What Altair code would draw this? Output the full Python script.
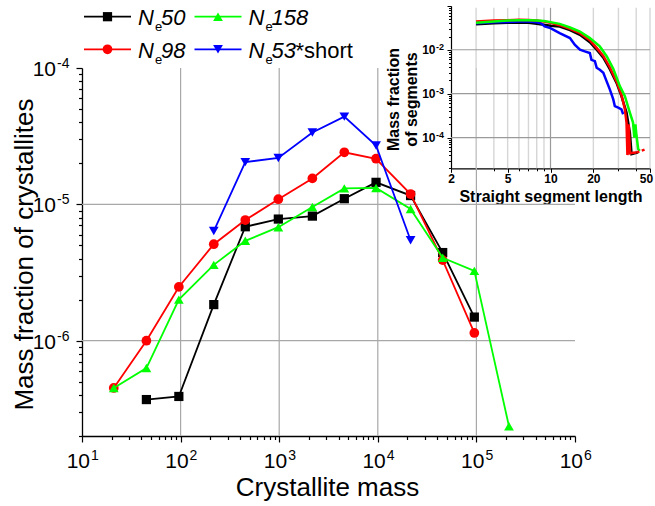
import altair as alt
import pandas as pd

FONT = "Liberation Sans"

# ---------------- main chart data ----------------
series_names = ["Ne50", "Ne98", "Ne158", "Ne53*short"]
series_colors = ["#000000", "#ff0000", "#00ff00", "#0000ff"]
series_shapes = ["square", "circle", "triangle-up", "triangle-down"]

ne50_mass = [45, 96, 217, 453, 980, 2170, 4575, 9600, 21500, 45500, 95300]
ne50_frac = [3.7e-7, 3.9e-7, 1.84e-6, 6.85e-6, 7.8e-6, 8.2e-6, 1.1e-5, 1.45e-5, 1.16e-5, 4.43e-6, 1.49e-6]

ne98_mass = [21, 45, 96, 217, 453, 980, 2170, 4575, 9600, 21500, 45500, 95300]
ne98_frac = [4.5e-7, 1.0e-6, 2.48e-6, 5.1e-6, 7.67e-6, 1.09e-5, 1.55e-5, 2.41e-5, 2.16e-5, 1.19e-5, 3.9e-6, 1.14e-6]

ne158_mass = [21, 45, 96, 217, 453, 980, 2170, 4575, 9600, 21500, 45500, 95300, 214000]
ne158_frac = [4.5e-7, 6.3e-7, 2.0e-6, 3.6e-6, 5.4e-6, 6.8e-6, 9.55e-6, 1.31e-5, 1.32e-5, 9.25e-6, 4.06e-6, 3.25e-6, 2.36e-7]

ne53s_mass = [217, 453, 980, 2170, 4575, 9600, 21500]
ne53s_frac = [6.37e-6, 2.04e-5, 2.19e-5, 3.37e-5, 4.4e-5, 2.7e-5, 5.45e-6]

main_x_major = [10, 100, 1000, 10000, 100000, 1000000]
main_x_exp = ["1", "2", "3", "4", "5", "6"]
main_y_major = [1e-6, 1e-5, 1e-4]
main_y_exp = ["-6", "-5", "-4"]
main_x_grid = [100, 1000, 10000, 100000]
main_y_grid = [1e-6, 1e-5]

# ---------------- inset data ----------------
ins_black_len = [3, 4, 5, 6, 7, 8, 10, 11.6, 13.7, 16.1, 18.9, 21.1, 23.5, 26.1, 29.1, 31.5, 34.2, 36.1, 37.1, 39, 41.3]
ins_black_frac = [0.038, 0.040, 0.041, 0.0415, 0.041, 0.039, 0.035, 0.0337, 0.028, 0.0218, 0.0148, 0.0100, 0.0066,
                  0.0036, 0.00176, 8.8e-4, 3.7e-4, 1.3e-4, 4.2e-5, 4.4e-5, 4.6e-5]

ins_red_len = [3, 4, 5, 6, 7, 8, 9, 10, 11.6, 13.7, 16.1, 18.9, 21.1, 23.5, 26.1, 29.1, 31.5, 33.3, 34.2, 34.7,
               35.4, 36.2, 38, 40.2]
ins_red_frac = [0.044, 0.046, 0.047, 0.048, 0.0475, 0.046, 0.044, 0.041, 0.0362, 0.030, 0.0239, 0.0165, 0.0110,
                0.0072, 0.0040, 0.0019, 9.5e-4, 4.4e-4, 2.2e-4, 4.0e-5, 2.0e-4, 4.4e-5, 4.5e-5, 4.6e-5]
ins_red_tail_len = [40.2, 43.5, 47.2]
ins_red_tail_frac = [4.6e-5, 5.0e-5, 5.5e-5]

ins_green_len = [3, 4, 5, 6, 7, 8, 9, 10, 11.6, 13.7, 16.1, 18.9, 22.2, 24.8, 27.6, 30.7, 33.3, 36.1, 38, 38.8,
                 39.5, 40.2, 41.3, 42.4]
ins_green_frac = [0.041, 0.044, 0.046, 0.047, 0.047, 0.0465, 0.045, 0.0425, 0.0388, 0.032, 0.0259, 0.0184, 0.0119,
                  0.0071, 0.0037, 0.00148, 8.8e-4, 3.7e-4, 2.2e-4, 1.0e-4, 2.0e-4, 1.1e-4, 5.5e-5, 5.0e-5]

ins_blue_len = [3, 4, 5, 6, 7, 8, 8.6, 9.1, 10, 11.6, 13.7, 14.8, 16.1, 17.4, 18.9, 19.4, 20.5, 21.1, 22.2, 23.5,
                24.8, 26.1, 27.6, 28.3, 29.9, 31.5, 32.4]
ins_blue_frac = [0.040, 0.042, 0.043, 0.044, 0.044, 0.042, 0.040, 0.034, 0.031, 0.0239, 0.0184, 0.0130, 0.0100,
                 0.0092, 0.0084, 0.0059, 0.0055, 0.0039, 0.0035, 0.0030, 0.0019, 0.00125, 7.4e-4, 5.2e-4, 4.8e-4,
                 4.4e-4, 3.4e-4]

ins_x_labels = [2, 5, 10, 20, 50]
ins_y_major = [1e-4, 1e-3, 1e-2]
ins_y_exp = ["-4", "-3", "-2"]
ins_x_grid_minor = [3, 4, 5, 6, 7, 8, 9, 20, 30, 40, 50]
ins_x_grid_major = [10]
ins_y_grid = [1e-4, 1e-3, 1e-2]

legend_num = ["50", "98", "158", "53"]
legend_suffix = ["", "", "", "*short"]

# ---------------- layout ----------------
PL, PT = 82, 68
W, H = 493, 368
GRID = "#a8a8a8"

IX0, IX1 = 451 - PL, 650 - PL
IYB, IYT = 168.3 - PT, 5.8 - PT

XS = alt.Scale(type="log", domain=[10, 1e6], nice=False)
YS = alt.Scale(type="log", domain=[2e-7, 1e-4], nice=False)
IXS = alt.Scale(type="log", domain=[2, 50], range=[IX0, IX1], nice=False)
IYS = alt.Scale(type="log", domain=[2e-5, 0.1], range=[IYB, IYT], nice=False)

IS_DECADE = "abs(log(datum.value)/LN10 - round(log(datum.value)/LN10)) < 0.001"

x_ticks = [k * 10 ** e for e in range(1, 6) for k in range(1, 10)] + [10 ** 6]
y_ticks = [k * 10.0 ** e for e in (-7, -6, -5) for k in range(1, 10) if not (e == -7 and k < 2)] + [1e-4]
ins_x_ticks = [2, 3, 4, 5, 6, 7, 8, 9, 10, 20, 30, 40, 50]
ins_y_ticks = [k * 10.0 ** e for e in (-5, -4, -3, -2) for k in range(1, 10) if not (e == -5 and k < 2)] + [0.1]

XAX = alt.Axis(values=x_ticks, labels=False, grid=False, domainColor="black", domainWidth=1.3,
               tickColor="black", tickWidth=1.2,
               tickSize={"condition": {"test": IS_DECADE, "value": 6}, "value": 3.5},
               title="Crystallite mass", titleFont=FONT, titleFontSize=26, titleFontWeight="normal",
               titleColor="black", titleBaseline="alphabetic", titleX=245, titleY=59)
YAX = alt.Axis(values=y_ticks, labels=False, grid=False, domainColor="black", domainWidth=1.3,
               tickColor="black", tickWidth=1.2,
               tickSize={"condition": {"test": IS_DECADE, "value": 6}, "value": 3.5},
               title="Mass fraction of crystallites", titleFont=FONT, titleFontSize=26,
               titleFontWeight="normal", titleColor="black", titleBaseline="alphabetic",
               titleAngle=270, titleX=-50, titleY=186)

INS_MAJ = "indexof([2,5,10,20,50], datum.value) >= 0"
IXAX = alt.Axis(orient="bottom", offset=-(H - IYB), values=ins_x_ticks, grid=False,
                labelExpr=INS_MAJ + " ? format(datum.value, 'd') : ''",
                labelFont=FONT, labelFontSize=12, labelFontWeight="bold", labelColor="black",
                labelPadding=1, labelFlush=False, labelOverlap=False,
                labelOffset={"condition": {"test": "datum.value == 50", "value": -4}, "value": 0},
                tickSize={"condition": {"test": INS_MAJ, "value": 4}, "value": 2.5},
                tickColor="black", domainColor="black", domainWidth=1.2,
                title="Straight segment length", titleFont=FONT, titleFontSize=16,
                titleFontWeight="bold", titleColor="black", titleBaseline="alphabetic", titleY=33)
IYAX = alt.Axis(orient="left", offset=-IX0, values=ins_y_ticks, grid=False, labels=False,
                tickSize={"condition": {"test": IS_DECADE, "value": 4}, "value": 2.5},
                tickColor="black", domainColor="black", domainWidth=1.2,
                title=["Mass fraction", "of segments"], titleFont=FONT, titleFontSize=16,
                titleFontWeight="bold", titleColor="black", titleBaseline="alphabetic",
                titleAngle=270, titleX=-53, titleY=31, titleLineHeight=18)

one = pd.DataFrame({"k": [0]})

# ---------------- main layers ----------------
main_layers = []
main_layers.append(
    alt.Chart(pd.DataFrame({"v": main_x_grid})).mark_rule(color=GRID, strokeWidth=1.2).encode(
        x=alt.X("v:Q", scale=XS, axis=XAX), y=alt.value(0), y2=alt.value(H)))
main_layers.append(
    alt.Chart(pd.DataFrame({"v": main_y_grid})).mark_rule(color=GRID, strokeWidth=1.2).encode(
        y=alt.Y("v:Q", scale=YS, axis=YAX), x=alt.value(0), x2=alt.value(W)))

main_series = [(ne50_mass, ne50_frac), (ne98_mass, ne98_frac), (ne158_mass, ne158_frac), (ne53s_mass, ne53s_frac)]
for (xs, ys), col, shp in zip(main_series, series_colors, series_shapes):
    base = alt.Chart(pd.DataFrame({"m": xs, "f": ys})).encode(
        x=alt.X("m:Q", scale=XS, axis=XAX), y=alt.Y("f:Q", scale=YS, axis=YAX))
    main_layers.append(base.mark_line(color=col, strokeWidth=1.8))
    main_layers.append(base.mark_point(shape=shp, filled=True, color=col, opacity=1,
                                       size=95 if shp != "square" else 85))

xlab = alt.Chart(pd.DataFrame({"v": main_x_major, "e": main_x_exp}))
main_layers.append(xlab.mark_text(align="right", baseline="alphabetic", dx=8, font=FONT, fontSize=21,
                                  color="black").encode(
    x=alt.X("v:Q", scale=XS, axis=XAX), y=alt.value(H + 32), text=alt.value("10")))
main_layers.append(xlab.mark_text(align="left", baseline="alphabetic", dx=9, font=FONT, fontSize=14,
                                  color="black").encode(
    x=alt.X("v:Q", scale=XS, axis=XAX), y=alt.value(H + 24), text="e:N"))

ylab = alt.Chart(pd.DataFrame({"v": main_y_major, "e": main_y_exp}))
main_layers.append(ylab.mark_text(align="right", baseline="alphabetic", dx=-26, dy=8, font=FONT, fontSize=21,
                                  color="black").encode(
    y=alt.Y("v:Q", scale=YS, axis=YAX), x=alt.value(0), text=alt.value("10")))
main_layers.append(ylab.mark_text(align="left", baseline="alphabetic", dx=-25, dy=0, font=FONT, fontSize=14,
                                  color="black").encode(
    y=alt.Y("v:Q", scale=YS, axis=YAX), x=alt.value(0), text="e:N"))

# legend (two rows, two columns)
LEG_X0, LEG_DX, LEG_LEN = 84, 110.5, 47
LEG_ROWS = [16.7, 49.3]
for i, (num, suf, col, shp) in enumerate(zip(legend_num, legend_suffix, series_colors, series_shapes)):
    row, cidx = i % 2, i // 2
    lx = LEG_X0 + cidx * LEG_DX - PL
    ly = LEG_ROWS[row] - PT
    main_layers.append(alt.Chart(one).mark_rule(color=col, strokeWidth=1.8).encode(
        x=alt.value(lx), x2=alt.value(lx + LEG_LEN), y=alt.value(ly)))
    main_layers.append(alt.Chart(one).mark_point(shape=shp, filled=True, color=col, opacity=1,
                                                 size=95 if shp != "square" else 85).encode(
        x=alt.value(lx + LEG_LEN / 2), y=alt.value(ly)))
    main_layers.append(alt.Chart(one).mark_text(text="N", align="left", baseline="alphabetic", font=FONT,
                                                fontSize=22, fontStyle="italic", color="black").encode(
        x=alt.value(lx + 54), y=alt.value(ly + 8.3)))
    main_layers.append(alt.Chart(one).mark_text(text="e", align="left", baseline="alphabetic", font=FONT,
                                                fontSize=13, color="black").encode(
        x=alt.value(lx + 71), y=alt.value(ly + 14.5)))
    main_layers.append(alt.Chart(one).mark_text(text=num, align="left", baseline="alphabetic", font=FONT,
                                                fontSize=22, fontStyle="italic", color="black").encode(
        x=alt.value(lx + 77), y=alt.value(ly + 8.3)))
    if suf:
        main_layers.append(alt.Chart(one).mark_text(text=suf, align="left", baseline="alphabetic", font=FONT,
                                                    fontSize=22, color="black").encode(
            x=alt.value(lx + 77 + len(num) * 0.545 * 22), y=alt.value(ly + 8.3)))

main = alt.layer(*main_layers)

# ---------------- inset layers ----------------
ins_layers = []
ins_layers.append(
    alt.Chart(pd.DataFrame({"v": ins_x_grid_minor})).mark_rule(color="#d6d6d6", strokeWidth=1.4).encode(
        x=alt.X("v:Q", scale=IXS, axis=IXAX), y=alt.value(IYT + 2), y2=alt.value(IYB)))
ins_layers.append(
    alt.Chart(pd.DataFrame({"v": ins_x_grid_major})).mark_rule(color="#9a9a9a", strokeWidth=1.2).encode(
        x=alt.X("v:Q", scale=IXS, axis=IXAX), y=alt.value(IYT + 2), y2=alt.value(IYB)))
ins_layers.append(
    alt.Chart(pd.DataFrame({"v": ins_y_grid})).mark_rule(color="#9a9a9a", strokeWidth=1.2).encode(
        y=alt.Y("v:Q", scale=IYS, axis=IYAX), x=alt.value(IX0), x2=alt.value(IX1)))

ins_series = [(ins_black_len, ins_black_frac, "#000000"), (ins_blue_len, ins_blue_frac, "#0000ff"),
              (ins_red_len, ins_red_frac, "#ff0000"), (ins_green_len, ins_green_frac, "#00ff00")]
for xs, ys, col in ins_series:
    ins_layers.append(alt.Chart(pd.DataFrame({"l": xs, "f": ys})).mark_line(color=col, strokeWidth=2.5).encode(
        x=alt.X("l:Q", scale=IXS, axis=IXAX), y=alt.Y("f:Q", scale=IYS, axis=IYAX)))
ins_layers.append(alt.Chart(pd.DataFrame({"l": ins_red_tail_len, "f": ins_red_tail_frac})).mark_line(
    color="#ff0000", strokeWidth=2.5, strokeDash=[3, 2.5]).encode(
    x=alt.X("l:Q", scale=IXS, axis=IXAX), y=alt.Y("f:Q", scale=IYS, axis=IYAX)))

iylab = alt.Chart(pd.DataFrame({"v": ins_y_major, "e": ins_y_exp}))
ins_layers.append(iylab.mark_text(align="right", baseline="alphabetic", dy=4.5, font=FONT, fontSize=12,
                                  fontWeight="bold", color="black").encode(
    y=alt.Y("v:Q", scale=IYS, axis=IYAX), x=alt.value(IX0 - 15.5), text=alt.value("10")))
ins_layers.append(iylab.mark_text(align="left", baseline="alphabetic", dy=0, font=FONT, fontSize=9,
                                  fontWeight="bold", color="black").encode(
    y=alt.Y("v:Q", scale=IYS, axis=IYAX), x=alt.value(IX0 - 15), text="e:N"))

inset = alt.layer(*ins_layers)

chart = alt.layer(main, inset).resolve_scale(x="independent", y="independent").properties(
    width=W, height=H,
    padding={"left": PL, "top": PT, "right": 655 - PL - W, "bottom": 506 - PT - H},
    autosize=alt.AutoSizeParams(type="none"),
    background="white",
).configure_view(stroke=None)

chart.save("out.html", embed_options={"renderer": "svg", "actions": False})
